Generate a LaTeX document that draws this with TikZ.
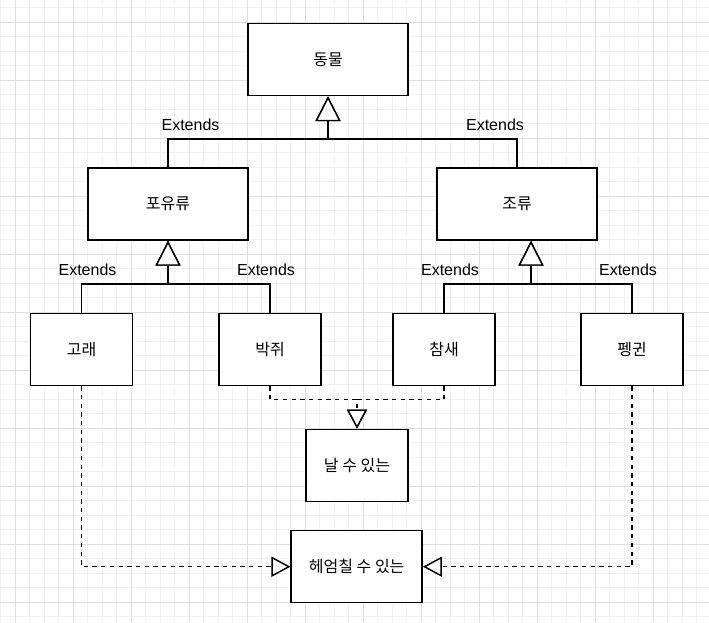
\documentclass[tikz,border=0pt]{standalone}
\usepackage{fontspec}
\setmainfont{Liberation Sans}
\newfontfamily\kr{Noto Sans CJK KR}
\usetikzlibrary{arrows.meta}
\definecolor{gridmajor}{HTML}{DEDEDE}
\definecolor{gridminor}{HTML}{F0F0F0}
\tikzset{
  box/.style={draw, line width=1.45pt, fill=white, font=\kr\fontsize{16}{18}\selectfont, inner sep=0pt},
  ext/.style={draw, line width=1.45pt, -{Triangle[fill=white, length=25pt, width=25pt]}},
  impl/.style={draw, line width=1.45pt, dash pattern=on 4.35pt off 4.35pt, -{Triangle[fill=white, length=19pt, width=20pt]}},
  lbl/.style={font=\fontsize{16}{18}\selectfont, anchor=base, inner sep=0pt},
}
\begin{document}
\begin{tikzpicture}[x=1pt, y=-1pt]
\useasboundingbox (0,0) rectangle (709,622);
\fill[white] (0,0) rectangle (709,622);
% grid
\foreach \i in {0,...,48} \draw[gridminor, line width=0.8pt] ({0.8+14.5*\i},0) -- ({0.8+14.5*\i},622);
\foreach \i in {0,...,42} \draw[gridminor, line width=0.8pt] (0,{7.8+14.5*\i}) -- (709,{7.8+14.5*\i});
\foreach \i in {0,...,12} \draw[gridmajor, line width=0.8pt] ({15.3+58*\i},0) -- ({15.3+58*\i},622);
\foreach \i in {0,...,10} \draw[gridmajor, line width=0.8pt] (0,{22.3+58*\i}) -- (709,{22.3+58*\i});
% nodes
\node[box, minimum width=160pt, minimum height=72pt] (animal) at (328,59.5) {동물};
\node[box, minimum width=160pt, minimum height=72pt] (mammal) at (168,204) {포유류};
\node[box, minimum width=160pt, minimum height=72pt] (bird) at (517,204) {조류};
\node[box, minimum width=102pt, minimum height=72pt] (whale) at (81.5,349.5) {고래};
\node[box, minimum width=102pt, minimum height=72pt] (bat) at (270,349.5) {박쥐};
\node[box, minimum width=102pt, minimum height=72pt] (sparrow) at (444,349.5) {참새};
\node[box, minimum width=102pt, minimum height=72pt] (penguin) at (632,349.5) {펭귄};
\node[box, minimum width=102pt, minimum height=72.5pt] (fly) at (357,465.5) {날 수 있는};
\node[box, minimum width=131pt, minimum height=72pt] (swim) at (356.7,566.7) {헤엄칠 수 있는};
% junctions
\coordinate (j1) at (328,139);
\coordinate (j2) at (168,284);
\coordinate (j3) at (531,284);
\coordinate (j4) at (357,399.5);
% connectors
\draw[ext] (mammal.north) |- (j1) -- (animal.south);
\draw[ext] (bird.north) |- (j1) -- (animal.south);
\draw[ext] (whale.north) |- (j2) -- (mammal.south);
\draw[ext] (bat.north) |- (j2) -- (mammal.south);
\draw[ext] (sparrow.north) |- (j3) -- (j3 |- bird.south);
\draw[ext] (penguin.north) |- (j3) -- (j3 |- bird.south);
\draw[impl] (bat.south) |- (j4) -- (fly.north);
\draw[impl] (sparrow.south) |- (j4) -- (fly.north);
\draw[impl] (whale.south) |- (swim.west);
\draw[impl] (penguin.south) |- (swim.east);
% labels
\node[lbl] (e1) at (190.5,130.5) {Extends};
\node[lbl] (e2) at (495,130.5) {Extends};
\node[lbl] (e3) at (87.5,275) {Extends};
\node[lbl] (e4) at (266,275) {Extends};
\node[lbl] (e5) at (450,275) {Extends};
\node[lbl] (e6) at (628,275) {Extends};
\end{tikzpicture}
\end{document}
